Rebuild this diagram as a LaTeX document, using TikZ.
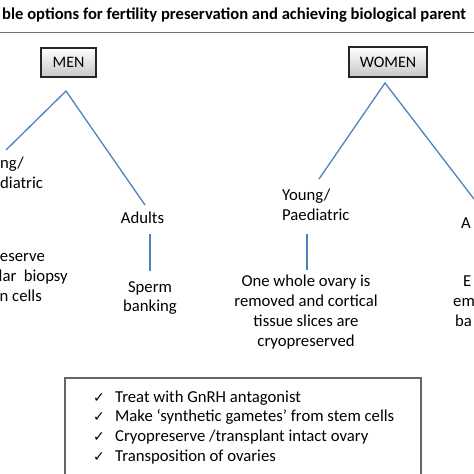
\documentclass[tikz,border=0pt]{standalone}
\usepackage{fontspec}
\setmainfont{Carlito}
\newfontfamily\symfont{DejaVu Sans}
\usetikzlibrary{positioning}
\definecolor{lineblue}{RGB}{79,129,189}
\tikzset{
  txt/.style={inner sep=0pt, font=\fontsize{16.7}{20}\selectfont},
  sexbox/.style={draw=black!85, line width=1.2pt, top color=white, bottom color=black!22, inner sep=0pt, font=\fontsize{16}{19}\selectfont},
  branch/.style={draw=lineblue, line width=1.3pt},
  chk/.style={inner sep=0pt, font=\symfont\fontsize{14}{15}\selectfont},
}
\begin{document}
\begin{tikzpicture}[x=1pt,y=-1pt]
\useasboundingbox (0,0) rectangle (474,474);
\clip (0,0) rectangle (474,474);
% title
\node[inner sep=0pt, anchor=base west, font=\bfseries\fontsize{16.6}{19}\selectfont] (title) at (2,19.5) {ble options for fertility preservation and achieving biological parent};
\coordinate (hl) at (0,32); \coordinate (hr) at (474,32);
\draw[black!55, line width=1pt] (hl) -- (hr);
% boxes
\node[sexbox, minimum width=55pt, minimum height=29pt] (men) at (68.5,62.5) {MEN};
\node[sexbox, minimum width=78pt, minimum height=30pt] (women) at (388,62) {WOMEN};
% men tree
\coordinate (ma) at (66,91);
\coordinate (ml) at (6,150);
\coordinate (mr) at (145,205);
\draw[branch] (ml) -- (ma) -- (mr);
\node[txt, anchor=base west] (my1) at (0,168) {ng/};
\node[txt, anchor=base west] (my2) at (0,188) {diatric};
\node[txt, anchor=base] (madult) at (142.5,223) {Adults};
\coordinate (mv1) at (150,234); \coordinate (mv2) at (150,271);
\draw[branch] (mv1) -- (mv2);
\node[txt, anchor=base] (sp1) at (150,292) {Sperm};
\node[txt, anchor=base] (sp2) at (150,311) {banking};
\node[txt, anchor=base east] (cr1) at (45,261) {eserve};
\node[txt, anchor=base east] (cr2) at (68,281) {lar\ \ biopsy};
\node[txt, anchor=base east] (cr3) at (42,301) {n cells};
% women tree
\coordinate (wa) at (385,83);
\coordinate (wl) at (319,179);
\coordinate (wr) at (474,199);
\draw[branch] (wl) -- (wa) -- (wr);
\node[txt, anchor=base west] (wy1) at (282,200) {Young/};
\node[txt, anchor=base west] (wy2) at (282,220) {Paediatric};
\node[txt, anchor=base west] (wad) at (461,228) {A};
\coordinate (wv1) at (307,234); \coordinate (wv2) at (307,270);
\draw[branch] (wv1) -- (wv2);
\node[txt, anchor=base] (ov1) at (306,286) {One whole ovary is};
\node[txt, anchor=base] (ov2) at (306,306) {removed and cortical};
\node[txt, anchor=base] (ov3) at (306,326) {tissue slices are};
\node[txt, anchor=base] (ov4) at (306,346) {cryopreserved};
\node[txt, anchor=base west] (eg1) at (463,286) {E};
\node[txt, anchor=base west] (eg2) at (453,306) {em};
\node[txt, anchor=base west] (eg3) at (455,326) {ba};
% bottom box
\coordinate (b1) at (65,480); \coordinate (b2) at (421,378);
\draw[black!60, line width=1.2pt] (b1) rectangle (b2);
\foreach \yy/\tt [count=\i] in {402/{Treat with GnRH antagonist}, 421.5/{Make ‘synthetic gametes’ from stem cells}, 441/{Cryopreserve /transplant intact ovary}, 461/{Transposition of ovaries}} {
  \node[chk, anchor=base] (c\i) at (99,\yy) {✓};
  \node[txt, anchor=base west] (t\i) at (115,\yy) {\tt};
}
\end{tikzpicture}
\end{document}
